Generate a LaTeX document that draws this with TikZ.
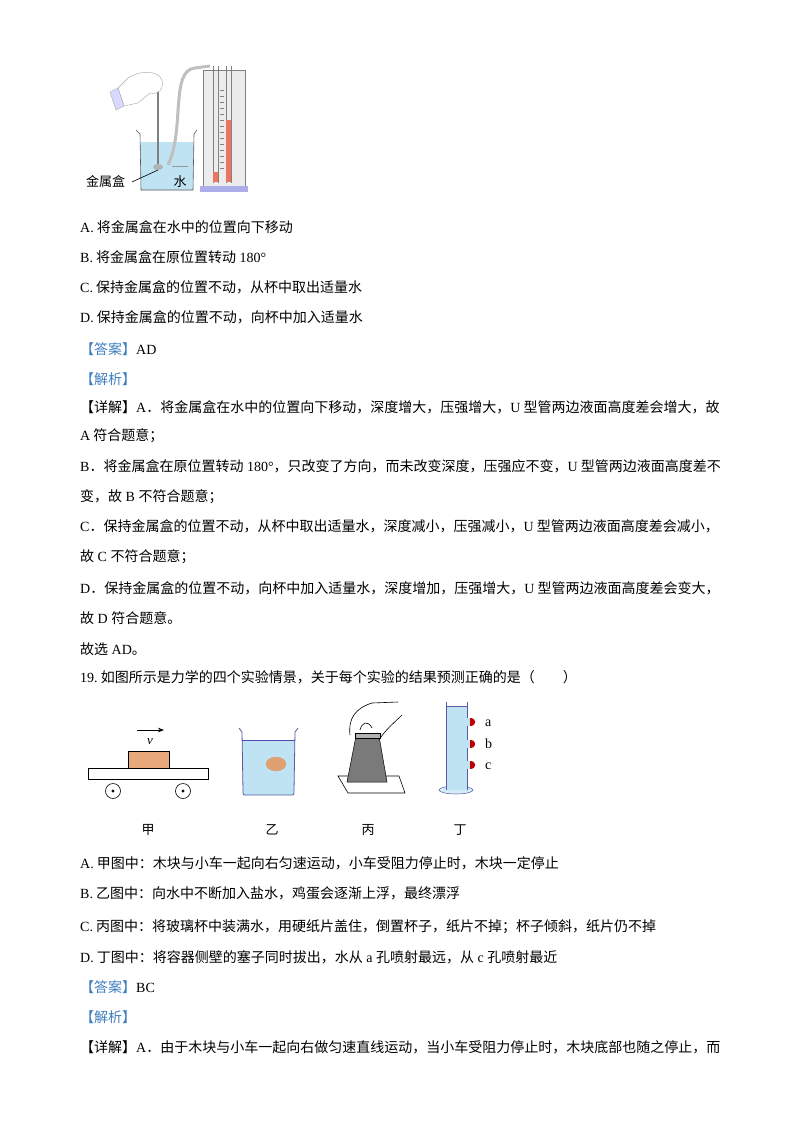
\documentclass[tikz,border=0pt]{standalone}
\usepackage{fontspec}
\setmainfont{Noto Sans CJK SC}
\newfontfamily\en{Liberation Serif}
\usetikzlibrary{arrows.meta}
\definecolor{ans}{HTML}{3F7FBF}
\definecolor{water}{HTML}{BFE3F2}
\definecolor{wood}{HTML}{E9A87C}
\newcommand{\E}[1]{{\en #1}}
\begin{document}
\begin{tikzpicture}[x=1pt,y=-1pt,
  t/.style={anchor=base west,inner sep=0pt,font=\fontsize{14}{14}\selectfont},
  lab/.style={anchor=base,inner sep=0pt,font=\fontsize{13}{13}\selectfont},
  ln/.style={line width=0.6pt}]
\useasboundingbox[fill=white] (0,0) rectangle (800,1132);
% ---------- top figure ----------
\fill[water] (140,142) -- (194,142) -- (193,190) -- (141,190) -- cycle;
\draw[gray!70!black,line width=0.6pt] (136,130) -- (140,134) -- (141,190) -- (193,190) -- (194,134) -- (197,130);
\draw[gray,line width=2.5pt] (158,90) -- (158,165);
\fill[gray!60] (158,167) ellipse (5 and 3);
\draw[gray!50,line width=3pt] (168,165) .. controls (185,130) and (170,70) .. (195,68) -- (210,66);
\draw[gray!80,line width=0.5pt] (172,166) -- (188,166);
\fill[white,draw=gray!70] (118,88) -- (128,78) .. controls (140,70) and (158,70) .. (162,80) .. controls (164,90) and (158,95) .. (150,93) -- (138,103) -- (124,106) -- cycle;
\fill[blue!15,draw=gray!70] (110,92) -- (118,88) -- (124,106) -- (116,110) -- cycle;
% manometer
\fill[gray!15] (203,70) rectangle (245,187);
\draw[gray] (203,70) rectangle (245,187);
\draw[gray] (213,66) -- (213,183) (218,66) -- (218,183);
\draw[gray] (226,66) -- (226,183) (231,66) -- (231,183);
\fill[red!55!brown!70] (226,120) rectangle (231,182);
\fill[red!55!brown!70] (213,172) rectangle (218,182);
\foreach \yy in {90,96,...,170} \draw[gray,line width=0.3pt] (220,\yy) -- (224,\yy);
\fill[gray!40!blue!40] (200,186) rectangle (248,192);
% labels
\node[lab,anchor=base west] (jsh) at (86,186) {金属盒};
\draw[ln] (132,182) -- (158,170);
\node[lab] (shui) at (180,186) {水};
% ---------- text ----------
\node[t] at (80,232) {\E{A.}\ 将金属盒在水中的位置向下移动};
\node[t] at (80,262) {\E{B.}\ 将金属盒在原位置转动\E{ 180°}};
\node[t] at (80,292) {\E{C.}\ 保持金属盒的位置不动，从杯中取出适量水};
\node[t] at (80,322) {\E{D.}\ 保持金属盒的位置不动，向杯中加入适量水};
\node[t] at (80,354) {\textcolor{ans}{【答案】}\E{AD}};
\node[t] at (80,384) {\textcolor{ans}{【解析】}};
\node[t] at (80,412) {【详解】\E{A}．将金属盒在水中的位置向下移动，深度增大，压强增大，\E{U} 型管两边液面高度差会增大，故};
\node[t] at (80,440) {\E{A} 符合题意；};
\node[t] at (80,471) {\E{B}．将金属盒在原位置转动\E{ 180°}，只改变了方向，而未改变深度，压强应不变，\E{U} 型管两边液面高度差不};
\node[t] at (80,501) {变，故\E{ B }不符合题意；};
\node[t] at (80,531) {\E{C}．保持金属盒的位置不动，从杯中取出适量水，深度减小，压强减小，\E{U} 型管两边液面高度差会减小，};
\node[t] at (80,561) {故\E{ C }不符合题意；};
\node[t] at (80,593) {\E{D}．保持金属盒的位置不动，向杯中加入适量水，深度增加，压强增大，\E{U} 型管两边液面高度差会变大，};
\node[t] at (80,623) {故\E{ D }符合题意。};
\node[t] at (80,654) {故选\E{ AD}。};
\node[t] at (80,682) {\E{19.}\ 如图所示是力学的四个实验情景，关于每个实验的结果预测正确的是（\qquad）};
% ---------- figure row ----------
\draw[ln,-{Stealth[length=6pt]}] (137,730) -- (164,730);
\node[lab,font=\fontsize{13}{13}\selectfont\en\itshape] at (150,744) {v};
\draw[ln,fill=wood] (128,751) rectangle (169,768);
\draw[ln] (88,768) rectangle (208,779);
\draw[ln] (113,791) circle (7.5); \fill (113,791) circle (1.6);
\draw[ln] (183,791) circle (7.5); \fill (183,791) circle (1.6);
\node[lab] at (148,834) {甲};
\fill[water] (242,740) -- (295,740) -- (294,791) .. controls (294,795) .. (290,795) -- (247,795) .. controls (243,795) .. (243,791) -- cycle;
\draw[gray!70!blue,line width=0.8pt] (239,728) -- (242,732) -- (243,791) .. controls (243,795) .. (247,795) -- (290,795) .. controls (294,795) .. (294,791) -- (295,732) -- (298,728);
\draw[gray!60!blue,line width=0.4pt] (242,740) -- (295,740);
\fill[wood!80!brown,draw=brown!70] (276,764) ellipse (10 and 7);
\node[lab] at (272,834) {乙};
\draw[ln] (338,776) -- (399,776) -- (405,793) -- (348,793) -- cycle;
\fill[gray!70!black!80,draw=black,line width=0.5pt] (356,736) -- (379,736) -- (387,782) -- (347,782) -- cycle;
\draw[ln,fill=gray!60] (355,733) rectangle (380,738);
\draw[ln] (350,735) .. controls (348,718) and (356,708) .. (372,703) -- (398,702);
\draw[ln] (379,740) .. controls (385,730) and (395,722) .. (402,715);
\draw[ln] (360,730) .. controls (362,722) and (368,720) .. (372,728);
\node[lab] at (368,834) {丙};
\fill[water!70,draw=gray!70!blue,line width=0.5pt] (456,790) ellipse (17 and 4);
\fill[water] (446,706) rectangle (467,790);
\draw[gray!70!blue,line width=0.6pt] (446,702) -- (446,790) (467,702) -- (467,790);
\draw[gray!70!blue,line width=0.4pt] (446,706) -- (467,706);
\foreach \yy/\ll in {722/a,744/b,765/c}{
  \fill[water] (467,\yy-4) rectangle (470,\yy+4);
  \fill[red!75!black] (470,\yy-4) .. controls (477,\yy-4) and (477,\yy+4) .. (470,\yy+4) -- cycle;
  \node[lab,anchor=base west,font=\fontsize{14}{14}\selectfont\en] at (485,\yy+4) {\ll};
}
\node[lab] at (460,834) {丁};
% ---------- text 2 ----------
\node[t] at (80,868) {\E{A.}\ 甲图中：木块与小车一起向右匀速运动，小车受阻力停止时，木块一定停止};
\node[t] at (80,898) {\E{B.}\ 乙图中：向水中不断加入盐水，鸡蛋会逐渐上浮，最终漂浮};
\node[t] at (80,931) {\E{C.}\ 丙图中：将玻璃杯中装满水，用硬纸片盖住，倒置杯子，纸片不掉；杯子倾斜，纸片仍不掉};
\node[t] at (80,962) {\E{D.}\ 丁图中：将容器侧壁的塞子同时拔出，水从\E{ a }孔喷射最远，从\E{ c }孔喷射最近};
\node[t] at (80,992) {\textcolor{ans}{【答案】}\E{BC}};
\node[t] at (80,1022) {\textcolor{ans}{【解析】}};
\node[t] at (80,1052) {【详解】\E{A}．由于木块与小车一起向右做匀速直线运动，当小车受阻力停止时，木块底部也随之停止，而};
\end{tikzpicture}
\end{document}
